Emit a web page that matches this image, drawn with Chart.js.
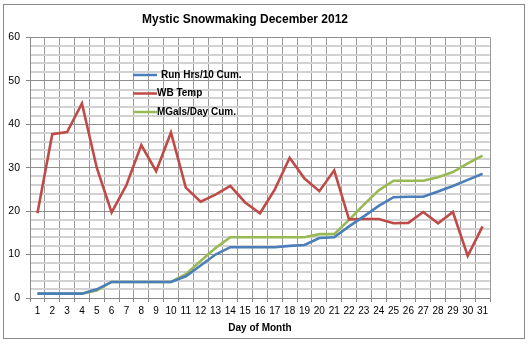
<!DOCTYPE html>
<html>
<head>
<meta charset="utf-8">
<script src="https://cdn.jsdelivr.net/npm/chart.js@4.4.1/dist/chart.umd.min.js"></script>
<style>
  html, body { margin: 0; padding: 0; background: #fff; }
  #wrap { width: 530px; height: 344px; }
</style>
</head>
<body>
<div id="wrap"><canvas id="myChart" width="530" height="344"></canvas></div>
<script>
var days = ["1","2","3","4","5","6","7","8","9","10","11","12","13","14","15","16",
            "17","18","19","20","21","22","23","24","25","26","27","28","29","30","31"];

var runHrs = [1, 1, 1, 1, 2, 3.7, 3.7, 3.7, 3.7, 3.7, 5, 7.5, 10, 11.7, 11.7, 11.7,
              11.7, 12, 12.2, 13.8, 14, 16.5, 18.8, 21.2, 23.2, 23.3, 23.3, 24.5, 25.8, 27.2, 28.6];

var wbTemp = [19.5, 37.7, 38.2, 44.8, 30, 19.7, 26, 35.2, 29.2, 38.1, 25.4, 22.2, 23.8, 25.8, 22, 19.5,
              25, 32.3, 27.5, 24.6, 29.4, 18.1, 18.2, 18.2, 17.2, 17.3, 19.8, 17.2, 19.8, 9.7, 16.5];

var mGals = [1, 1, 1, 1, 1.7, 3.7, 3.7, 3.7, 3.7, 3.7, 5.5, 8.5, 11.5, 14, 14, 14,
             14, 14, 14, 14.7, 14.7, 18, 21.5, 24.8, 27, 27, 27, 27.8, 29, 31, 32.8];

var seriesNames = ["Run Hrs/10 Cum.", "WB Temp", "MGals/Day Cum."];
var seriesColors = ["#4a7ebb", "#be4b48", "#98b954"];

var yTickLabels = [0, 10, 20, 30, 40, 50, 60];

var fontFam = "'Liberation Sans', Arial, sans-serif";

// frame + white background
var framePlugin = {
    id: 'frame',
    beforeDraw: function(chart) {
        var c = chart.ctx;
        c.save();
        c.fillStyle = '#fff';
        c.fillRect(0, 0, chart.width, chart.height);
        c.strokeStyle = '#8a8a8a';
        c.lineWidth = 1;
        c.strokeRect(3.5, 4.5, 521, 334);
        c.restore();
    }
};

// legend drawn inside the plot area
var innerLegend = {
    id: 'innerLegend',
    afterDraw: function(chart) {
        var c = chart.ctx;
        c.save();
        c.font = "bold 10px " + fontFam;
        c.textBaseline = 'middle';
        chart.data.datasets.forEach(function(ds, i) {
            var y = 75 + i * 18.5;
            c.strokeStyle = ds.borderColor;
            c.lineWidth = 2.5;
            c.beginPath();
            c.moveTo(133, y);
            c.lineTo(157, y);
            c.stroke();
            c.fillStyle = '#000';
            c.fillText(ds.label, i === 0 ? 161 : 157, y);
        });
        c.restore();
    }
};

var ctx = document.getElementById("myChart").getContext('2d');
var myChart = new Chart(ctx, {
    type: 'line',
    data: {
        labels: days,
        datasets: [
            { label: seriesNames[0], data: runHrs, borderColor: seriesColors[0] },
            { label: seriesNames[1], data: wbTemp, borderColor: seriesColors[1] },
            { label: seriesNames[2], data: mGals, borderColor: seriesColors[2] }
        ]
    },
    plugins: [framePlugin, innerLegend],
    options: {
        responsive: false,
        animation: false,
        devicePixelRatio: 1,
        layout: { padding: { left: 0, right: 40, top: 0, bottom: 0 } },
        elements: {
            line: { borderWidth: 2.6, tension: 0, fill: false },
            point: { radius: 0 }
        },
        plugins: {
            legend: { display: false },
            tooltip: { enabled: false },
            title: {
                display: true,
                text: 'Mystic Snowmaking December 2012',
                color: '#000',
                font: { family: fontFam, size: 12, weight: 'bold' },
                padding: { top: 12, bottom: 11 }
            }
        },
        scales: {
            x: {
                offset: true,
                grid: {
                    offset: true,
                    color: '#9a9a9a',
                    tickLength: 4,
                    tickColor: '#8a8a8a'
                },
                border: { color: '#8a8a8a' },
                ticks: {
                    autoSkip: false,
                    maxRotation: 0,
                    padding: 3,
                    color: '#000',
                    font: { family: fontFam, size: 10 }
                },
                title: {
                    display: true,
                    text: 'Day of Month',
                    color: '#000',
                    font: { family: fontFam, size: 10, weight: 'bold' },
                    padding: { top: 2, bottom: 10 }
                },
                afterFit: function(scale) { scale.height = 46; }
            },
            y: {
                min: 0,
                max: 60,
                grid: {
                    color: function(c) { return c.tick.value % 10 === 0 ? '#8f8f8f' : '#d2d2d2'; },
                    lineWidth: function(c) { return c.tick.value % 10 === 0 ? 1 : 2; },
                    tickLength: 4,
                    tickColor: function(c) { return c.tick.value % 10 === 0 ? '#8a8a8a' : 'rgba(0,0,0,0)'; }
                },
                border: { color: '#8a8a8a' },
                ticks: {
                    stepSize: 2,
                    autoSkip: false,
                    padding: 6,
                    color: '#000',
                    font: { family: fontFam, size: 10.5 },
                    callback: function(v) { return yTickLabels.indexOf(v) >= 0 ? v : ''; }
                },
                afterFit: function(scale) { scale.width = 30; }
            }
        }
    }
});
</script>
</body>
</html>
